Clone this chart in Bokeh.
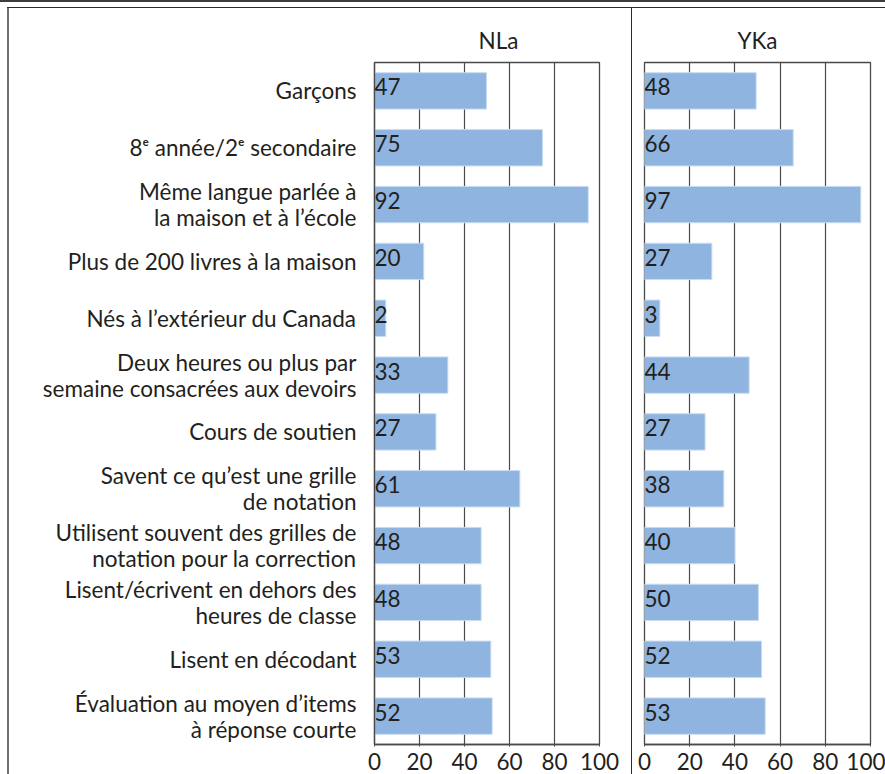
from bokeh.plotting import figure
from bokeh.models import ColumnDataSource, FactorRange, Range1d, Spacer, FixedTicker
from bokeh.layouts import row, column
from bokeh.core.properties import value
from bokeh.embed import file_html
from bokeh.resources import INLINE

# ---- data (top to bottom) ----
categories = [
    "Garçons",
    "8ᵉ année/2ᵉ secondaire",
    "Même langue parlée à\nla maison et à l’école",
    "Plus de 200 livres à la maison",
    "Nés à l’extérieur du Canada",
    "Deux heures ou plus par\nsemaine consacrées aux devoirs",
    "Cours de soutien",
    "Savent ce qu’est une grille\nde notation",
    "Utilisent souvent des grilles de\nnotation pour la correction",
    "Lisent/écrivent en dehors des\nheures de classe",
    "Lisent en décodant",
    "Évaluation au moyen d’items\nà réponse courte",
]
# bar lengths as drawn in the picture
nla_bar = [49.8, 74.7, 95.0, 21.9, 5.0, 32.6, 27.3, 64.6, 47.4, 47.4, 51.7, 52.3]
yka_bar = [49.4, 65.8, 95.7, 29.8, 6.8, 46.3, 26.8, 35.1, 40.0, 50.4, 51.8, 53.4]
# printed values
nla_label = [47, 75, 92, 20, 2, 33, 27, 61, 48, 48, 53, 52]
yka_label = [48, 66, 97, 27, 3, 44, 27, 38, 40, 50, 52, 53]
x_ticks = [0, 20, 40, 60, 80, 100]

FONT = "Lato"
FS = "22.5px"
TXT = "#231F20"
BAR = "#8EB4DF"
LINE = "#4A4A4A"
H = 766


def panel(title, bars, labels, width, bl, br, show_cats, align, offset):
    src = ColumnDataSource(dict(cat=categories, v=bars, lab=[str(x) for x in labels]))
    p = figure(width=width, height=H,
               y_range=FactorRange(factors=categories[::-1]),
               x_range=Range1d(0, 100),
               output_backend="svg", toolbar_location=None,
               min_border_left=bl, min_border_right=br,
               min_border_top=54, min_border_bottom=30)
    p.hbar(y="cat", left=0, right="v", height=0.64, source=src,
           fill_color=BAR, line_color="#C9DCF2", line_width=1)
    p.text(x=0, y="cat", text="lab", source=src, x_offset=0, y_offset=-4,
           text_align="left", text_baseline="middle",
           text_font=value(FONT), text_font_size=value(FS), text_color=TXT)

    p.title.text = title
    p.title.align = align
    p.title.offset = offset
    p.title.vertical_align = "top"
    p.title.standoff = 14
    p.title.text_font = FONT
    p.title.text_font_size = FS
    p.title.text_font_style = "normal"
    p.title.text_color = TXT

    p.outline_line_color = LINE
    p.outline_line_width = 1.3
    p.background_fill_color = "white"
    p.border_fill_color = "white"

    xa = p.xaxis[0]
    xa.ticker = FixedTicker(ticks=x_ticks)
    xa.axis_line_color = LINE
    xa.axis_line_width = 1.3
    xa.major_tick_line_color = LINE
    xa.major_tick_out = 2
    xa.major_tick_in = 0
    xa.minor_tick_line_color = None
    xa.major_label_standoff = 6
    xa.major_label_text_font = FONT
    xa.major_label_text_font_size = FS
    xa.major_label_text_color = TXT
    xa.major_label_text_line_height = 0.75

    p.xgrid.ticker = FixedTicker(ticks=x_ticks)
    p.xgrid.grid_line_color = LINE
    p.xgrid.grid_line_width = 1.2
    p.ygrid.grid_line_color = None

    ya = p.yaxis[0]
    if show_cats:
        ya.axis_line_color = LINE
        ya.axis_line_width = 1.3
        ya.major_tick_line_color = None
        ya.minor_tick_line_color = None
        ya.major_label_standoff = 12
        ya.major_label_text_font = FONT
        ya.major_label_text_font_size = FS
        ya.major_label_text_color = TXT
        ya.major_label_text_line_height = 0.96
    else:
        ya.visible = False
    return p


p1 = panel("NLa", nla_bar, nla_label, 622, 365, 32, True, "left", 104)
p2 = panel("YKa", yka_bar, yka_label, 253, 12, 15, False, "center", 0)

top_line = Spacer(width=885, height=2, styles={"background-color": "#3D3D3D"})
gap = Spacer(width=885, height=5)
frame_top = Spacer(width=878, height=1, styles={"background-color": "#2A2A2A"})
left_line = Spacer(width=2, height=H, styles={"background-color": "#707070"})
divider = Spacer(width=1, height=H, styles={"background-color": "#2A2A2A"})
indent = Spacer(width=7, height=H + 1)

inner = column(frame_top, row(left_line, p1, divider, p2))
root = column(top_line, gap, row(indent, inner))

open("out.html", "w").write(file_html(root, INLINE))
